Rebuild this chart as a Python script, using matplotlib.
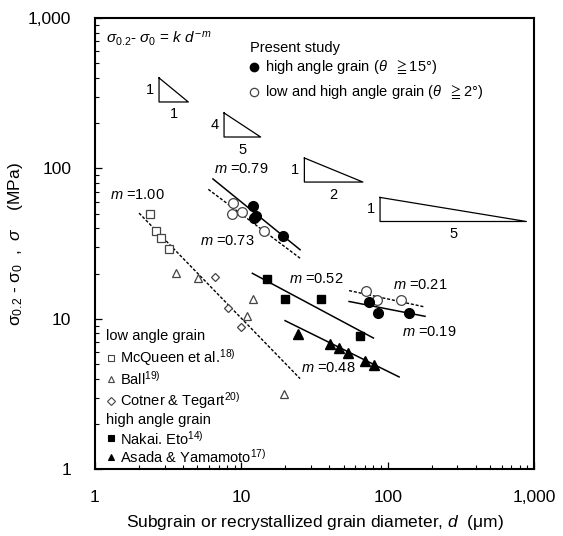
import numpy as np
import matplotlib
matplotlib.use('Agg')
import matplotlib.pyplot as plt
from matplotlib.ticker import FuncFormatter, LogLocator, NullFormatter

plt.rcParams['font.family'] = ['Liberation Sans', 'DejaVu Sans']
plt.rcParams['mathtext.fontset'] = 'custom'
plt.rcParams['mathtext.rm'] = 'Liberation Sans'
plt.rcParams['mathtext.it'] = 'Liberation Sans:italic'
plt.rcParams['mathtext.fallback'] = 'stixsans'

# present study, subgrain / grain size d (um) vs stress (MPa)
high_d = [12.1, 12.5, 12.3, 19.2, 75.0, 85.6, 140]
high_s = [56.7, 48.5, 46.5, 35.7, 13.0, 11.0, 11.0]
lowhigh_d = [8.8, 8.7, 10.1, 14.3, 71.2, 84.3, 123.5]
lowhigh_s = [58.9, 49.7, 51.3, 38.1, 15.4, 13.4, 13.4]

# literature, low angle grain
mcqueen_d = [2.38, 2.61, 2.83, 3.20]
mcqueen_s = [49.7, 38.1, 34.4, 29.1]
ball_d = [3.58, 5.08, 12.1, 10.9, 19.6]
ball_s = [20.3, 18.7, 13.5, 10.5, 3.17]
cotner_d = [6.61, 8.15, 9.95]
cotner_s = [19.1, 11.8, 8.89]

# literature, high angle grain
nakai_d = [14.9, 19.9, 34.9, 64.8]
nakai_s = [18.5, 13.6, 13.6, 7.74]
asada_d = [24.5, 40.4, 46.8, 53.9, 70.1, 81.1]
asada_s = [7.91, 6.79, 6.44, 5.91, 5.26, 4.94]

# fitted lines sigma = k d^-m : (m, k, d_start, d_end, dashed)
fits = [
    (1.00, 101, 2.0, 25.2, True),
    (0.79, 369, 6.4, 25.2, False),
    (0.73, 267, 5.95, 25.2, True),
    (0.52, 72.8, 11.9, 79.9, False),
    (0.48, 40.9, 19.9, 119.7, False),
    (0.21, 35.7, 54.5, 180, True),
    (0.19, 27.9, 54.5, 180, False),
]
# label positions for each fit (d, sigma)
fit_labels = [(1.96, 66.8), (9.95, 99.1), (8.02, 33.0), (32.4, 18.5),
              (39.1, 4.74), (166, 16.7), (192, 8.23)]

# slope triangles: (rise, run, corner d, corner sigma)
slope_tris = [(1, 1, 2.74, 276.6), (4, 5, 7.62, 161.8),
              (1, 2, 26.97, 81.2), (1, 5, 88.7, 44.4)]

fig = plt.figure(figsize=(5.63, 5.36), dpi=100)
ax = fig.add_axes([0.1687, 0.1244, 0.7798, 0.842])
ax.set_xscale('log')
ax.set_yscale('log')
ax.set_xlim(1, 1000)
ax.set_ylim(1, 1000)

gray = '#444444'
ax.plot(mcqueen_d, mcqueen_s, 's', ms=5.5, mfc='white', mec=gray, mew=0.9, zorder=3)
ax.plot(ball_d, ball_s, '^', ms=6, mfc='white', mec=gray, mew=0.9, zorder=3)
ax.plot(cotner_d, cotner_s, 'D', ms=4.2, mfc='white', mec=gray, mew=0.9, zorder=3)
ax.plot(nakai_d, nakai_s, 's', ms=6, color='black', zorder=3)
ax.plot(asada_d, asada_s, '^', ms=6.5, color='black', zorder=3)
ax.plot(lowhigh_d, lowhigh_s, 'o', ms=7, mfc='white', mec=gray, mew=0.9, zorder=3)
ax.plot(high_d, high_s, 'o', ms=7, color='black', zorder=4)

for (m, k, d0, d1, dashed), (lx, ly) in zip(fits, fit_labels):
    d = np.array([d0, d1])
    if dashed:
        ax.plot(d, k * d ** -m, color='black', lw=1.0, ls=(0, (2.2, 1.3)), zorder=2)
    else:
        ax.plot(d, k * d ** -m, color='black', lw=1.1, zorder=2)
    ax.text(lx, ly, r'$m$ =%.2f' % m, fontsize=10.5, ha='center', va='center')

# slope triangles with rise/run labels
h = 0.16
for rise, run, x0, y0 in slope_tris:
    w = h * 1.25 * run / rise
    x1 = x0 * 10 ** w
    y1 = y0 * 10 ** h
    ax.plot([x0, x0, x1, x0], [y1, y0, y0, y1], color='black', lw=0.9)
    ax.annotate(str(rise), (x0, y0 * 10 ** (h / 2)), xytext=(-6.5, 0),
                textcoords='offset points', ha='center', va='center', fontsize=10.5)
    ax.annotate(str(run), (x0 * 10 ** (w / 2), y0), xytext=(0, -9),
                textcoords='offset points', ha='center', va='center', fontsize=10.5)

ax.text(0.025, 0.955, r'$\sigma_{\mathrm{0.2}}$- $\sigma_{\mathrm{0}}$ = $k\ d^{\mathrm{-}\,m}$',
        transform=ax.transAxes, fontsize=11, va='center', ha='left')

# present study legend
ax.text(0.353, 0.933, 'Present study', transform=ax.transAxes, fontsize=10.5, va='center')
ax.plot([0.363], [0.891], 'o', ms=6, color='black', transform=ax.transAxes, clip_on=False)
ax.text(0.387, 0.891, r'high angle grain ($\theta$  ${\geqq}$15°)', transform=ax.transAxes,
        fontsize=10.5, va='center')
ax.plot([0.363], [0.837], 'o', ms=6, mfc='white', mec=gray, mew=0.9,
        transform=ax.transAxes, clip_on=False)
ax.text(0.387, 0.837, r'low and high angle grain ($\theta$  ${\geqq}$2°)', transform=ax.transAxes,
        fontsize=10.5, va='center')

# literature legend
ax.text(0.026, 0.295, 'low angle grain', transform=ax.transAxes, fontsize=10.5, va='center')
lit_rows = [
    ('s', 4.5, 'white', gray, 0.247, r'McQueen et al.$^{\mathrm{18)}}$'),
    ('^', 4.5, 'white', gray, 0.200, r'Ball$^{\mathrm{19)}}$'),
    ('D', 3.6, 'white', gray, 0.152, r'Cotner & Tegart$^{\mathrm{20)}}$'),
    ('s', 4.5, 'black', 'black', 0.0687, r'Nakai. Eto$^{\mathrm{14)}}$'),
    ('^', 4.5, 'black', 'black', 0.028, r'Asada & Yamamoto$^{\mathrm{17)}}$'),
]
ax.text(0.024, 0.110, 'high angle grain', transform=ax.transAxes, fontsize=10.5, va='center')
for mk, ms, fc, ec, fy, label in lit_rows:
    ax.plot([0.036], [fy], mk, ms=ms, mfc=fc, mec=ec, mew=0.8,
            transform=ax.transAxes, clip_on=False)
    ax.text(0.057, fy, label, transform=ax.transAxes, fontsize=10.5, va='center')

fmt = FuncFormatter(lambda v, p: '{:,.0f}'.format(v))
for axis in (ax.xaxis, ax.yaxis):
    axis.set_major_locator(LogLocator(base=10))
    axis.set_minor_locator(LogLocator(base=10, subs=np.arange(2, 10)))
    axis.set_major_formatter(fmt)
    axis.set_minor_formatter(NullFormatter())
ax.tick_params(which='major', direction='in', length=5, width=0.9, labelsize=12.5)
ax.tick_params(which='minor', direction='in', length=3, width=0.8)
ax.tick_params(axis='y', which='major', pad=17)
ax.tick_params(axis='x', which='major', pad=15)
for s in ax.spines.values():
    s.set_linewidth(1.5)

ax.set_xlabel(r'Subgrain or recrystallized grain diameter, $d$  (μm)', fontsize=12.5, labelpad=6)
ax.set_ylabel(r'σ$_{\mathrm{0.2}}$ - σ$_{\mathrm{0}}$  ,  $\sigma$    (MPa)', fontsize=12.5, labelpad=2)

fig.savefig('out.png', dpi=100)
